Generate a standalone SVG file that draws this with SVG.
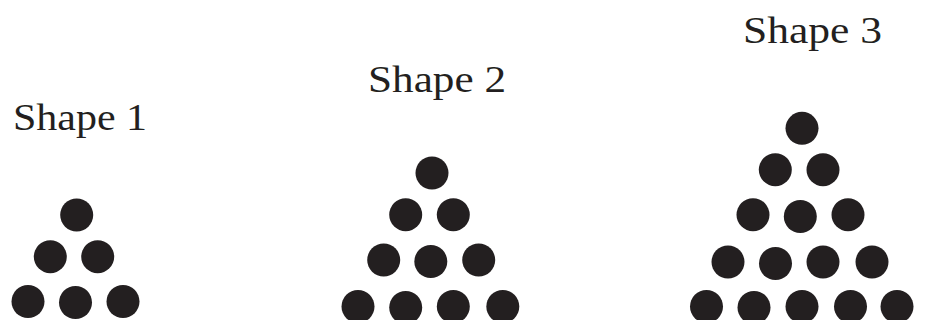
<svg xmlns="http://www.w3.org/2000/svg" width="925" height="320" viewBox="0 0 925 320">
<style>
.lbl{font-family:"Liberation Serif","DejaVu Serif",serif;font-size:38px;fill:#231f20}
.d{fill:#231f20}
</style>
<rect width="925" height="320" fill="#fff"/>
<g id="shape1">
<text class="lbl" x="13" y="130" textLength="134" lengthAdjust="spacingAndGlyphs">Shape 1</text>
<circle class="d" cx="76.7" cy="215" r="16.5"/>
<circle class="d" cx="50.3" cy="256.7" r="16.5"/>
<circle class="d" cx="97.7" cy="256.7" r="16.5"/>
<circle class="d" cx="28" cy="301.5" r="16.5"/>
<circle class="d" cx="75.5" cy="302.5" r="16.5"/>
<circle class="d" cx="123" cy="301.5" r="16.5"/>
</g>
<g id="shape2">
<text class="lbl" x="368" y="92" textLength="138" lengthAdjust="spacingAndGlyphs">Shape 2</text>
<circle class="d" cx="432" cy="173" r="16.5"/>
<circle class="d" cx="405.7" cy="214.7" r="16.5"/>
<circle class="d" cx="453.3" cy="214.7" r="16.5"/>
<circle class="d" cx="383.7" cy="260" r="16.5"/>
<circle class="d" cx="430.8" cy="261.5" r="16.5"/>
<circle class="d" cx="478.7" cy="260" r="16.5"/>
<circle class="d" cx="358" cy="306.5" r="16.5"/>
<circle class="d" cx="405.7" cy="307.5" r="16.5"/>
<circle class="d" cx="453.3" cy="306.5" r="16.5"/>
<circle class="d" cx="502.8" cy="306.5" r="16.5"/>
</g>
<g id="shape3">
<text class="lbl" x="743" y="43" textLength="139" lengthAdjust="spacingAndGlyphs">Shape 3</text>
<circle class="d" cx="802" cy="128.3" r="16.5"/>
<circle class="d" cx="775.3" cy="169.7" r="16.5"/>
<circle class="d" cx="823" cy="169.7" r="16.5"/>
<circle class="d" cx="753" cy="214.7" r="16.5"/>
<circle class="d" cx="800.3" cy="216.5" r="16.5"/>
<circle class="d" cx="848" cy="214.7" r="16.5"/>
<circle class="d" cx="728" cy="262" r="16.5"/>
<circle class="d" cx="775.5" cy="263.5" r="16.5"/>
<circle class="d" cx="823" cy="262" r="16.5"/>
<circle class="d" cx="872" cy="262" r="16.5"/>
<circle class="d" cx="706.5" cy="306.5" r="16.5"/>
<circle class="d" cx="754" cy="307.5" r="16.5"/>
<circle class="d" cx="802" cy="306.5" r="16.5"/>
<circle class="d" cx="850.5" cy="306.5" r="16.5"/>
<circle class="d" cx="897" cy="306.5" r="16.5"/>
</g>
</svg>
